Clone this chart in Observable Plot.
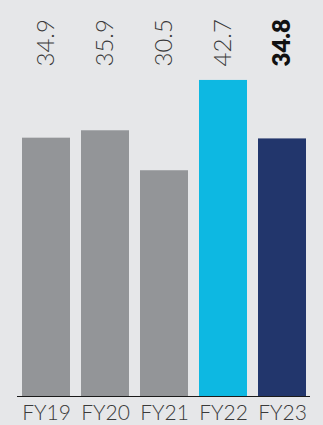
<!DOCTYPE html>
<html><head><meta charset="utf-8">
<script src="https://cdn.jsdelivr.net/npm/d3@7"></script>
<script src="https://cdn.jsdelivr.net/npm/@observablehq/plot@0.6"></script>
<style>
html,body{margin:0;padding:0;background:#e6e7e9;}
#chart svg{display:block;}
</style></head>
<body><div id="chart"></div>
<script>
const years = ["FY19","FY20","FY21","FY22","FY23"];
const values = [34.9, 35.9, 30.5, 42.7, 34.8];
const colors = ["#939598","#939598","#939598","#0db8e2","#22366c"];
const highlight = [false,false,false,false,true];

const data = years.map((y,i)=>({year:y, value:values[i], color:colors[i], bold:highlight[i]}));

const chart = Plot.plot({
  width: 323,
  height: 425,
  marginLeft: 17,
  marginRight: 13,
  marginTop: 0,
  marginBottom: 29,
  style: {background: "#e6e7e9", fontFamily: "Lato, sans-serif"},
  x: {domain: years, paddingInner: 0.19, paddingOuter: 0.06},
  y: {domain: [0, 53.5], axis: null},
  marks: [
    Plot.barY(data, {x: "year", y: "value", fill: "color"}),
    Plot.ruleY([0], {stroke: "#1a1a1a", strokeWidth: 1.2}),
    Plot.axisX({tickSize: 0, tickPadding: 9, fontSize: 21, fill: "#3a3a3a", label: null, fontWeight: 300}),
    Plot.text(data.filter(d=>!d.bold), {x: "year", text: d=>d.value.toFixed(1), rotate: -90, frameAnchor: "top", dy: 66, textAnchor: "start", lineAnchor: "middle", fontSize: 24, fill: "#3a3a3a", fontWeight: 300}),
    Plot.text(data.filter(d=>d.bold), {x: "year", text: d=>d.value.toFixed(1), rotate: -90, frameAnchor: "top", dy: 66, textAnchor: "start", lineAnchor: "middle", fontSize: 24, fill: "#111", fontWeight: 800})
  ]
});
document.getElementById("chart").append(chart);
</script></body></html>
